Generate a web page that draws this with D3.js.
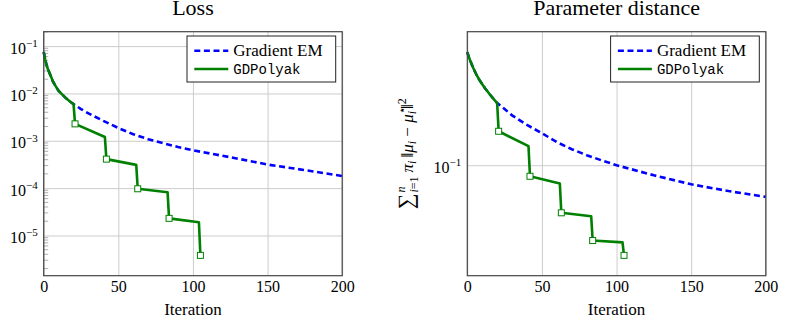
<!DOCTYPE html>
<html>
<head>
<meta charset="utf-8">
<script src="https://cdn.jsdelivr.net/npm/d3@7"></script>
<style>
    body { margin: 0; background: #fff; }
    svg { display: block; }
</style>
</head>
<body>
<div id="chart"></div>
<script>
// ---- data ----
const emIter = [0, 1, 2, 3, 4, 5, 6, 8, 10, 12, 15, 18, 20, 25, 30, 40, 50, 60, 70, 80, 90, 100, 125, 150, 175, 200];
const emLoss = [0.075, 0.052, 0.039, 0.0316, 0.0263, 0.0224, 0.0184, 0.0143, 0.01135, 0.0098, 0.0079, 0.0066, 0.00596,
    0.00468, 0.0038, 0.00263, 0.00186, 0.00138, 0.00108, 0.00089, 0.00074, 0.00063, 0.00045, 0.000315, 0.00024, 0.00018];
const emDist = [0.5105, 0.4764, 0.4498, 0.4266, 0.4055, 0.3873, 0.3707, 0.3428, 0.3214, 0.3020, 0.2780, 0.2570, 0.2449,
    0.2244, 0.2051, 0.1786, 0.1585, 0.1396, 0.1259, 0.1156, 0.1072, 0.1000, 0.0865, 0.0760, 0.0689, 0.0634];

const polyIter = [0, 1, 2, 3, 4, 5, 6, 8, 10, 12, 15, 18, 20, 21, 41, 42, 62, 63, 83, 84, 104, 105];
const polyLoss = [0.075, 0.052, 0.039, 0.0316, 0.0263, 0.0224, 0.0184, 0.0143, 0.01135, 0.0098, 0.0079, 0.0066, 0.00596,
    0.00228, 0.0012, 0.00041, 0.00031, 0.000097, 0.000082, 0.000023, 0.000019, 0.0000038];
const polyDist = [0.5105, 0.4764, 0.4498, 0.4266, 0.4055, 0.3873, 0.3707, 0.3428, 0.3214, 0.3020, 0.2780, 0.2570, 0.2449,
    0.1631, 0.1315, 0.0853, 0.0769, 0.0504, 0.0480, 0.0338, 0.0329, 0.0273];

const polyakSteps = [21, 42, 63, 84, 105];
const xTicks = [0, 50, 100, 150, 200];
const seriesNames = ["Gradient EM", "GDPolyak"];
const titles = ["Loss", "Parameter distance"];

const SERIF = "Liberation Serif, DejaVu Serif, serif";
const MONO = "Liberation Mono, DejaVu Sans Mono, monospace";
const BLUE = "#0000ff";
const GREEN = "#008000";

const svg = d3.select("#chart").append("svg")
    .attr("width", 800)
    .attr("height", 320);

class LogPanel {
    constructor(svg, opts) {
        this.svg = svg;
        this.opts = opts;
        this.initVis();
    }

    initVis() {
        let vis = this;
        vis.margin = { top: 31.7, left: vis.opts.left };
        vis.width = 298.5;
        vis.height = 244;

        vis.g = vis.svg.append("g")
            .attr("transform", "translate(" + vis.margin.left + "," + vis.margin.top + ")");

        vis.x = d3.scaleLinear()
            .domain([0, 200])
            .range([0, vis.width]);

        // pgfplots style: 10% padding of the log range on both ends
        let logs = vis.opts.em.concat(vis.opts.poly).map(Math.log10);
        vis.lo = d3.min(logs);
        vis.hi = d3.max(logs);
        let pad = (vis.hi - vis.lo) * 0.1;
        vis.lo -= pad;
        vis.hi += pad;

        vis.y = d3.scaleLog()
            .domain([Math.pow(10, vis.lo), Math.pow(10, vis.hi)])
            .range([vis.height, 0]);

        vis.line = d3.line()
            .x(d => vis.x(d.it))
            .y(d => vis.y(d.v));

        vis.wrangleData();
    }

    wrangleData() {
        let vis = this;
        vis.emData = emIter.map((it, i) => ({ it: it, v: vis.opts.em[i] }));
        vis.polyData = polyIter.map((it, i) => ({ it: it, v: vis.opts.poly[i] }));
        vis.stepData = vis.polyData.filter(d => polyakSteps.indexOf(d.it) !== -1);

        vis.decades = d3.range(Math.ceil(vis.lo), Math.floor(vis.hi) + 1).map(k => Math.pow(10, k));
        vis.minor = [];
        if (vis.opts.minorTicks) {
            for (let k = Math.floor(vis.lo); k <= Math.ceil(vis.hi); k++) {
                for (let m = 2; m <= 9; m++) {
                    let v = m * Math.pow(10, k);
                    let lv = Math.log10(v);
                    if (lv > vis.lo && lv < vis.hi) vis.minor.push(v);
                }
            }
        }
        vis.updateVis();
    }

    updateVis() {
        let vis = this;

        // x grid + labels
        let xAxis = vis.g.append("g")
            .attr("class", "x axis")
            .attr("transform", "translate(0," + vis.height + ")")
            .call(d3.axisBottom(vis.x).tickValues(xTicks).tickSize(-vis.height).tickPadding(5));
        xAxis.attr("font-family", SERIF).attr("font-size", 16);
        xAxis.select(".domain").remove();
        xAxis.selectAll("line").attr("stroke", "#cccccc").attr("stroke-width", 1);
        xAxis.selectAll("text").attr("fill", "#000");

        // y grid
        let yAxis = vis.g.append("g")
            .attr("class", "y axis")
            .call(d3.axisLeft(vis.y).tickValues(vis.decades).tickSize(-vis.width).tickFormat(""));
        yAxis.select(".domain").remove();
        yAxis.selectAll("line").attr("stroke", "#cccccc").attr("stroke-width", 1);

        // y labels 10^k
        vis.decades.forEach(function (d) {
            let t = vis.g.append("text")
                .attr("x", -6)
                .attr("y", vis.y(d) + 7.5)
                .attr("text-anchor", "end")
                .attr("font-family", SERIF)
                .attr("font-size", 16);
            t.append("tspan").text("10");
            t.append("tspan")
                .attr("dy", -6.5)
                .attr("font-size", 11)
                .text("\u2212" + Math.abs(Math.round(Math.log10(d))));
        });

        // minor ticks on the left edge
        vis.g.selectAll(".minor")
            .data(vis.minor)
            .enter()
            .append("line")
            .attr("class", "minor")
            .attr("x1", 0)
            .attr("x2", 4.5)
            .attr("y1", d => vis.y(d))
            .attr("y2", d => vis.y(d))
            .attr("stroke", "#999")
            .attr("stroke-width", 0.8);

        // series
        vis.g.append("path")
            .datum(vis.emData)
            .attr("fill", "none")
            .attr("stroke", BLUE)
            .attr("stroke-width", 2.6)
            .attr("stroke-dasharray", "6,3.6")
            .attr("d", vis.line);

        vis.g.append("path")
            .datum(vis.polyData)
            .attr("fill", "none")
            .attr("stroke", GREEN)
            .attr("stroke-width", 2.6)
            .attr("stroke-linejoin", "round")
            .attr("d", vis.line);

        vis.g.selectAll(".step")
            .data(vis.stepData)
            .enter()
            .append("rect")
            .attr("class", "step")
            .attr("x", d => vis.x(d.it) - 3)
            .attr("y", d => vis.y(d.v) - 3)
            .attr("width", 6)
            .attr("height", 6)
            .attr("fill", "#fff")
            .attr("stroke", GREEN)
            .attr("stroke-width", 1);

        // frame
        vis.g.append("rect")
            .attr("width", vis.width)
            .attr("height", vis.height)
            .attr("fill", "none")
            .attr("stroke", "#444")
            .attr("stroke-width", 1.2);

        // legend
        let lw = 148.7;
        let legend = vis.g.append("g")
            .attr("transform", "translate(" + (vis.width - 6.5 - lw) + ",4.3)");
        legend.append("rect")
            .attr("width", lw)
            .attr("height", 46)
            .attr("fill", "#fff")
            .attr("stroke", "#222")
            .attr("stroke-width", 1);
        let rows = [
            { name: seriesNames[0], color: BLUE, dash: "6,3.6", font: SERIF, size: 17, base: 5.5 },
            { name: seriesNames[1], color: GREEN, dash: null, font: MONO, size: 14, base: 4.5 }
        ];
        rows.forEach(function (r, i) {
            let ry = 14.7 + i * 18.3;
            legend.append("line")
                .attr("x1", 7.3)
                .attr("x2", 41.3)
                .attr("y1", ry)
                .attr("y2", ry)
                .attr("stroke", r.color)
                .attr("stroke-width", 2.6)
                .attr("stroke-dasharray", r.dash);
            legend.append("text")
                .attr("x", 46.3)
                .attr("y", ry + r.base)
                .attr("font-family", r.font)
                .attr("font-size", r.size)
                .text(r.name);
        });

        // title
        vis.g.append("text")
            .attr("x", vis.width / 2)
            .attr("y", -16.5)
            .attr("text-anchor", "middle")
            .attr("font-family", SERIF)
            .attr("font-size", 22)
            .text(vis.opts.title);

        // x label
        vis.g.append("text")
            .attr("x", vis.width / 2)
            .attr("y", vis.height + 39.5)
            .attr("text-anchor", "middle")
            .attr("font-family", SERIF)
            .attr("font-size", 17)
            .text("Iteration");

        if (vis.opts.yLabel) vis.drawSumLabel();
    }

    // sum_{i=1}^n pi_i ||mu_i - mu_i^*||^2, rotated
    drawSumLabel() {
        let vis = this;
        let t = vis.g.append("text")
            .attr("transform", "translate(-54.3," + vis.height / 2 + ") rotate(-90)")
            .attr("text-anchor", "middle")
            .attr("font-family", SERIF)
            .attr("font-size", 17);
        let add = function (txt, opt) {
            let s = t.append("tspan").text(txt);
            if (opt.size) s.attr("font-size", opt.size);
            if (opt.it) s.attr("font-style", "italic");
            if (opt.dy) s.attr("dy", opt.dy);
            if (opt.dx) s.attr("dx", opt.dx);
            return s;
        };
        add("\u2211", { size: 22 });
        let s1 = add("i", { size: 12, it: true, dy: 5, dx: 1 });
        let s2 = add("=1", { size: 12 });
        let back = s1.node().getComputedTextLength() + s2.node().getComputedTextLength();
        let s3 = add("n", { size: 12, it: true, dy: -13, dx: -back });
        let fwd = back - s3.node().getComputedTextLength();
        add("\u03c0", { it: true, dy: 8, dx: fwd + 4 });
        add("i", { size: 12, it: true, dy: 3 });
        add("\u2016", { dy: -3, dx: 3 });
        add("\u03bc", { it: true });
        add("i", { size: 12, it: true, dy: 3 });
        add(" \u2212 ", { dy: -3 });
        add("\u03bc", { it: true });
        let st = add("\u22c6", { size: 12, dy: -7 });
        add("i", { size: 12, it: true, dy: 10, dx: -st.node().getComputedTextLength() });
        add("\u2016", { dy: -3, dx: 2 });
        add("2", { size: 12, dy: -7 });
    }
}

new LogPanel(svg, { left: 43.7, title: titles[0], em: emLoss, poly: polyLoss, minorTicks: true, yLabel: false });
new LogPanel(svg, { left: 467.3, title: titles[1], em: emDist, poly: polyDist, minorTicks: false, yLabel: true });
</script>
</body>
</html>
